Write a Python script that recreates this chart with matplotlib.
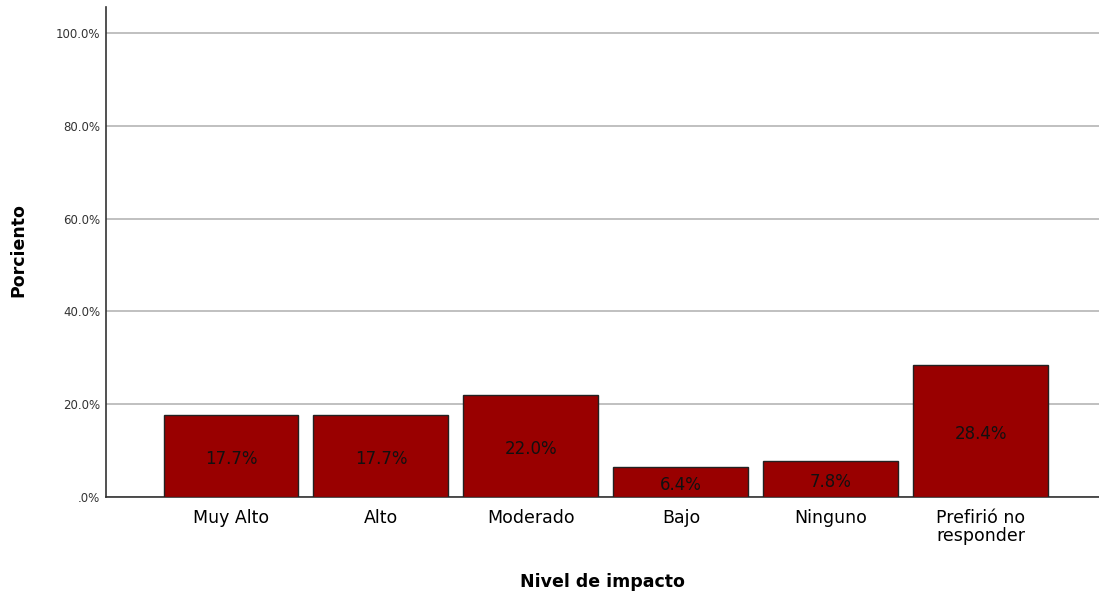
import numpy as np
import matplotlib
matplotlib.use("Agg")
import matplotlib.pyplot as plt

# Data
categories = ["Muy Alto", "Alto", "Moderado", "Bajo", "Ninguno", "Prefirió no\nresponder"]
percent = [17.7, 17.7, 22.0, 6.4, 7.8, 28.4]
yticks = [0, 20, 40, 60, 80, 100]
ytick_labels = [".0%", "20.0%", "40.0%", "60.0%", "80.0%", "100.0%"]

plt.rcParams['font.family'] = ['DejaVu Sans']

fig = plt.figure(figsize=(10.99, 5.98), dpi=100)
ax = fig.add_axes([0.0965, 0.169, 0.9035, 0.819])

x = np.arange(len(categories))
bars = ax.bar(x, percent, width=0.9, color="#990000", edgecolor="#222222", linewidth=1, zorder=3)

# value labels centred in each bar
for b, v in zip(bars, percent):
    ax.text(b.get_x() + b.get_width() / 2, v / 2 - 0.6, f"{v:.1f}%",
            ha="center", va="center", fontsize=12, color="#111111", zorder=4)

ax.set_xlim(-0.833, 5.787)
ax.set_ylim(0, 105.6)
ax.set_yticks(yticks)
ax.set_yticklabels(ytick_labels, fontsize=8.5, color="#333333")
ax.set_xticks(x)
ax.set_xticklabels(categories, fontsize=12.5, linespacing=0.95)
ax.tick_params(axis="x", length=0, pad=9)
ax.tick_params(axis="y", length=0, pad=4)

ax.grid(axis="y", color="#b5b5b5", linewidth=1.2, zorder=0)
for s in ["top", "right"]:
    ax.spines[s].set_visible(False)
for s in ["left", "bottom"]:
    ax.spines[s].set_color("#333333")
    ax.spines[s].set_linewidth(1.2)

ax.set_ylabel("Porciento", fontsize=12.5, fontweight="bold")
ax.yaxis.set_label_coords(-0.0795, 0.504)
ax.set_xlabel("Nivel de impacto", fontsize=12.5, fontweight="bold", labelpad=20)

fig.savefig("out.png", dpi=100)
